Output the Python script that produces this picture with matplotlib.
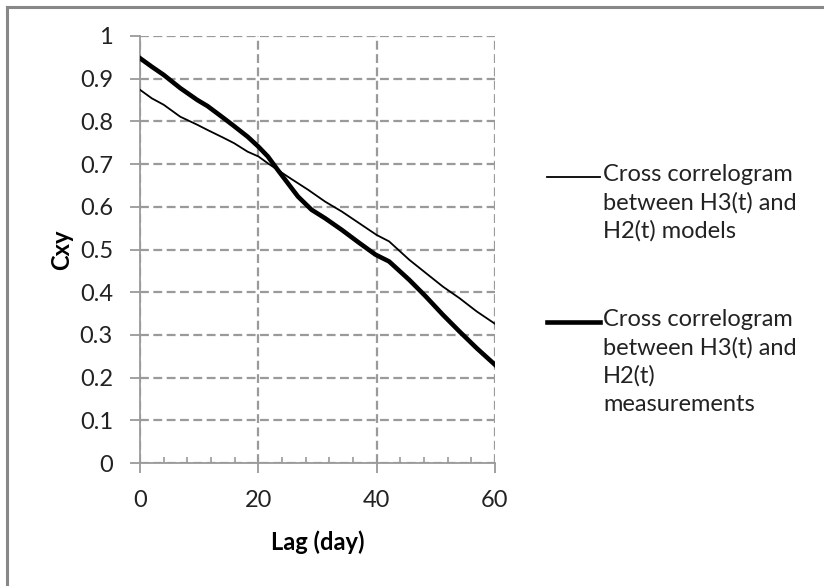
import numpy as np
import matplotlib
matplotlib.use("Agg")
import matplotlib.pyplot as plt
from matplotlib.lines import Line2D

plt.rcParams["font.family"] = ["Lato", "DejaVu Sans"]

# cross correlogram, models (thin line)
lag_model = [0, 2, 4, 6.8, 9.7, 11.4, 14.2, 15.9, 18.2, 20, 21.6, 23.3, 25.6, 28.4,
             31.3, 34.1, 37, 40, 42.1, 45.5, 48.3, 51.2, 54, 56.9, 60]
cxy_model = [0.874, 0.854, 0.839, 0.811, 0.792, 0.780, 0.761, 0.749, 0.729, 0.718,
             0.702, 0.686, 0.665, 0.640, 0.612, 0.589, 0.562, 0.534, 0.519, 0.476,
             0.445, 0.413, 0.386, 0.355, 0.326]

# cross correlogram, measurements (thick line)
lag_meas = [0, 2, 4, 6.8, 9.7, 11.4, 14.2, 15.9, 18.2, 20, 21.6, 23.3, 25, 26.7, 29,
            31.3, 34.1, 37, 39.8, 42.1, 45.5, 48.3, 51.2, 54, 56.9, 60]
cxy_meas = [0.948, 0.928, 0.909, 0.878, 0.850, 0.836, 0.807, 0.789, 0.764, 0.741,
            0.718, 0.686, 0.655, 0.624, 0.593, 0.573, 0.546, 0.516, 0.488, 0.472,
            0.429, 0.390, 0.347, 0.308, 0.269, 0.230]

x_ticks = [0, 20, 40, 60]
y_ticks = [0, 0.1, 0.2, 0.3, 0.4, 0.5, 0.6, 0.7, 0.8, 0.9, 1]
y_labels = ["0", "0.1", "0.2", "0.3", "0.4", "0.5", "0.6", "0.7", "0.8", "0.9", "1"]

labels = ["Cross correlogram\nbetween H3(t) and\nH2(t) models",
          "Cross correlogram\nbetween H3(t) and\nH2(t)\nmeasurements"]

FS = 17
W, H = 824, 586
fig = plt.figure(figsize=(W / 100, H / 100), dpi=100)
ax = fig.add_axes([140 / W, 1 - 463 / H, (495 - 140) / W, (463 - 36) / H])

ax.plot(lag_model, cxy_model, color="black", lw=1.3, zorder=3)
ax.plot(lag_meas, cxy_meas, color="black", lw=3.3, zorder=3)

ax.set_xlim(0, 60)
ax.set_ylim(0, 1)
ax.set_xticks(x_ticks)
ax.set_xticks(np.arange(0, 61, 4), minor=True)
ax.set_yticks(y_ticks)
ax.set_yticklabels(y_labels)

grid_c = "#9a9a9a"
ax.grid(True, which="major", color=grid_c, ls=(0, (4, 2)), lw=1.6)
ax.set_axisbelow(True)
for s in ["top", "right"]:
    ax.spines[s].set_visible(False)
for s in ["left", "bottom"]:
    ax.spines[s].set_color(grid_c)
    ax.spines[s].set_linewidth(1.3)
ax.tick_params(which="major", direction="out", length=7, width=1.3, color=grid_c,
               labelsize=FS, labelcolor="#222222", pad=12.5)
ax.tick_params(axis="x", which="minor", direction="in", length=4.5, width=1.2, color=grid_c)
ax.tick_params(axis="y", which="minor", left=False)

ax.set_xlabel("Lag (day)", fontsize=FS, fontweight="bold", labelpad=14)
ax.set_ylabel("Cxy", fontsize=FS, fontweight="bold", labelpad=4.5)

# legend drawn by hand, Excel style
for lw, y0, txt in zip([1.3, 3.3], [177, 322], labels):
    fig.add_artist(Line2D([547 / W, 600 / W], [1 - y0 / H, 1 - y0 / H],
                          color="black", lw=lw))
    fig.text(603 / W, 1 - (y0 - 13) / H, txt, fontsize=FS, color="#222222",
             va="top", ha="left", linespacing=1.4)

# outer chart border (top and left only visible)
fig.add_artist(Line2D([7 / W, 1], [1 - 7 / H, 1 - 7 / H], color="#888888", lw=2.2))
fig.add_artist(Line2D([7 / W, 7 / W], [0, 1 - 7 / H], color="#888888", lw=2.2))

fig.savefig("out.png", dpi=100)
